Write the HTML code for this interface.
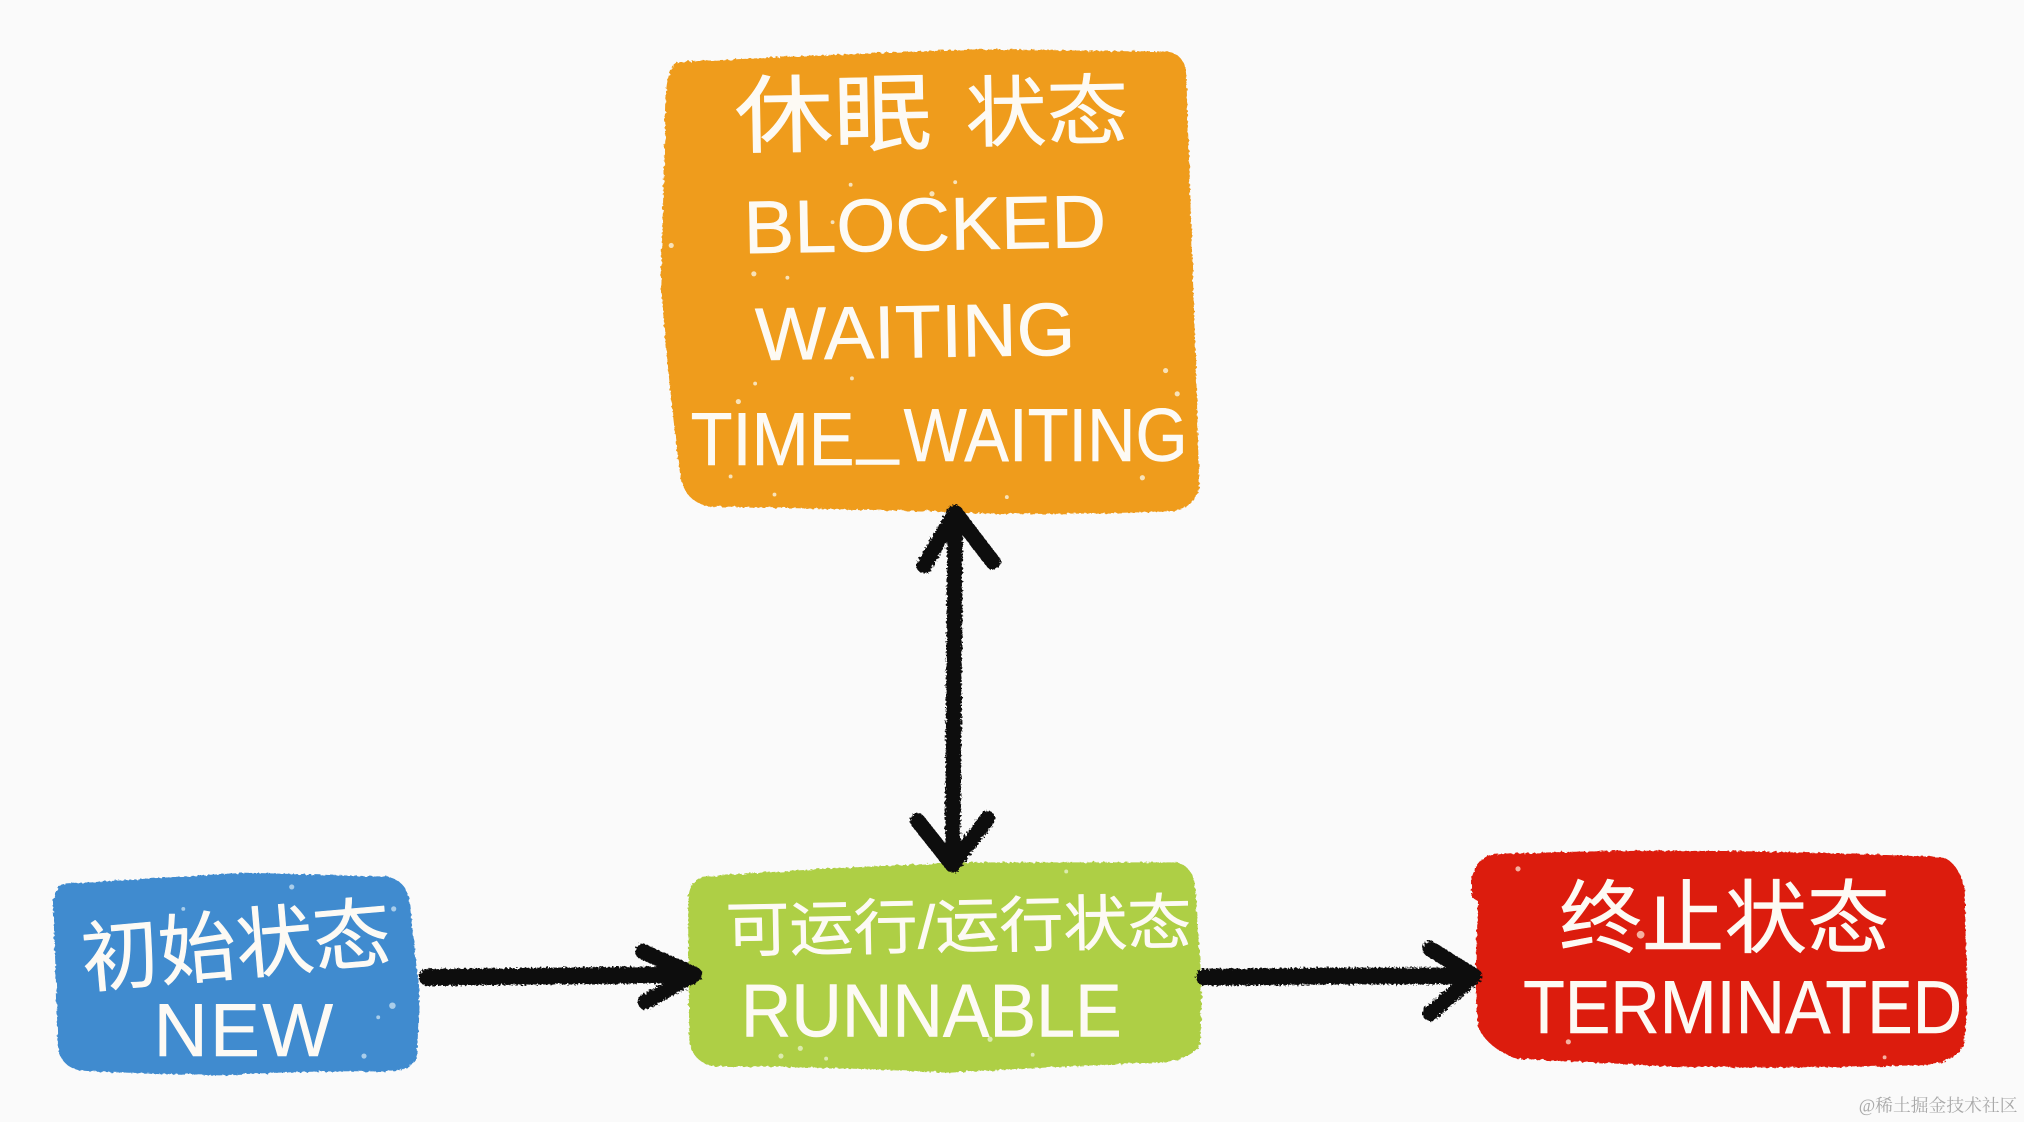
<!DOCTYPE html>
<html lang="zh"><head><meta charset="utf-8"><title>Thread states</title>
<style>
html,body{margin:0;padding:0;background:#fafafa;width:2024px;height:1122px;overflow:hidden}
svg{display:block}
text{fill:#fdfaf4;font-family:"Liberation Sans","WenQuanYi Zen Hei","Noto Sans CJK SC",sans-serif;stroke:#fdfaf4;stroke-width:.4;stroke-linejoin:round}
.wm{fill:#a9a9a9;stroke:none;font-family:"Liberation Serif","Noto Serif CJK SC",serif;font-size:13.8px}
</style></head><body>
<svg width="2024" height="1122" viewBox="0 0 1568 869" xmlns="http://www.w3.org/2000/svg">
<defs>
<filter id="r" x="-5%" y="-5%" width="110%" height="110%"><feTurbulence type="fractalNoise" baseFrequency=".35" numOctaves="2" seed="4"/><feDisplacementMap in="SourceGraphic" scale="3"/></filter>
<filter id="k" x="-20%" y="-20%" width="140%" height="140%" filterUnits="userSpaceOnUse"><feTurbulence type="fractalNoise" baseFrequency=".6" numOctaves="2" seed="7"/><feDisplacementMap in="SourceGraphic" scale="4"/></filter>
</defs>
<rect width="1568" height="869" fill="#fafafa"/>
<g filter="url(#r)">
<path fill="#EF9C1D" d="M526 48 Q640 42 760 38 L905 40 Q918 42 919 58 L922 150 L927 300 L929 375 Q928 394 905 396 Q800 400 720 396 L548 392 Q530 388 527 368 Q518 300 512 220 L516 70 Q518 50 526 48Z"/>
<path fill="#3F8BCF" d="M46 685 Q120 680 190 676 L300 679 Q314 682 317 696 L325 770 L323 820 Q318 829 300 830 Q240 829 170 833 L68 830 Q48 829 45 812 L43 750 L41 698 Z"/>
<path fill="#AECF45" d="M545 679 Q640 672 750 668 L912 668 Q925 672 926 688 L931 770 L930 808 Q925 820 900 823 Q820 826 735 831 Q640 826 552 826 Q536 822 534 806 L533 700 Q533 682 545 679Z"/>
<path fill="#DC1A0B" d="M1155 662 Q1300 655 1505 664 Q1517 668 1522 688 L1524 780 L1522 806 Q1516 824 1490 825 Q1400 828 1290 826 Q1220 822 1175 820 Q1152 812 1145 795 L1143 760 L1145 698 L1140 695 L1140 680 Q1145 665 1155 662Z"/>
</g>
<g filter="url(#k)" fill="none" stroke="#0a0a0a" stroke-linecap="round" stroke-linejoin="round">
<path stroke-width="12" d="M740 398 L739 530 L738 668"/>
<path stroke-width="12" d="M716 438 L740 397 L769 435"/>
<path stroke-width="12" d="M711 636 L738 670 L765 634"/>
<path stroke-width="13" d="M331 757 L430 756 L534 755"/>
<path stroke-width="12" d="M498 737 L538 755 L500 776"/>
<path stroke-width="13" d="M933 757 L1040 756 L1138 756"/>
<path stroke-width="12" d="M1108 735 L1142 756 L1108 785"/>
</g>
<text x="569" y="112" font-size="66" textLength="153" lengthAdjust="spacingAndGlyphs" transform="rotate(-1 640 90)">休眠</text>
<text x="748" y="108" font-size="60" textLength="126" lengthAdjust="spacingAndGlyphs" transform="rotate(-1 800 90)">状态</text>
<text x="576" y="194" font-size="58" textLength="281" lengthAdjust="spacingAndGlyphs" transform="rotate(-1 700 175)">BLOCKED</text>
<text x="585" y="277" font-size="58" textLength="248" lengthAdjust="spacingAndGlyphs" transform="rotate(-1 700 255)">WAITING</text>
<text x="535" y="360" font-size="58" textLength="127" lengthAdjust="spacingAndGlyphs">TIME</text>
<text x="664" y="348" font-size="58" textLength="32" lengthAdjust="spacingAndGlyphs">_</text>
<text x="700" y="357" font-size="58" textLength="220" lengthAdjust="spacingAndGlyphs">WAITING</text>
<text x="63" y="754" font-size="60" textLength="240" lengthAdjust="spacingAndGlyphs" transform="rotate(-5 180 735)">初始状态</text>
<text x="119" y="818" font-size="58" textLength="139">NEW</text>
<text x="562" y="734" font-size="47" textLength="361" lengthAdjust="spacingAndGlyphs" transform="rotate(-1 740 715)">可运行/运行状态</text>
<text x="574" y="803" font-size="58" textLength="295" lengthAdjust="spacingAndGlyphs">RUNNABLE</text>
<text x="1208" y="733" font-size="62" textLength="256" lengthAdjust="spacingAndGlyphs">终止状态</text>
<text x="1180" y="800" font-size="58" textLength="340" lengthAdjust="spacingAndGlyphs">TERMINATED</text>
<g fill="#f8e2b8">
<circle cx="722" cy="150" r="2"/><circle cx="659" cy="143" r="1.5"/><circle cx="740" cy="141" r="1.5"/><circle cx="584" cy="212" r="2"/><circle cx="610" cy="215" r="1.5"/><circle cx="520" cy="190" r="2"/><circle cx="660" cy="293" r="1.5"/><circle cx="885" cy="370" r="2"/><circle cx="903" cy="287" r="2"/><circle cx="600" cy="383" r="1.5"/><circle cx="780" cy="385" r="1.5"/><circle cx="566" cy="369" r="1.5"/><circle cx="912" cy="305" r="2"/><circle cx="645" cy="172" r="1.5"/><circle cx="585" cy="297" r="1.5"/><circle cx="572" cy="311" r="2"/>
</g>
<g fill="#a9cdea">
<circle cx="226" cy="687" r="2"/><circle cx="305" cy="704" r="2"/><circle cx="304" cy="779" r="2.5"/><circle cx="293" cy="788" r="1.5"/><circle cx="282" cy="818" r="2"/><circle cx="142" cy="704" r="1.5"/>
</g>
<g fill="#dcebae">
<circle cx="620" cy="812" r="2"/><circle cx="640" cy="820" r="1.5"/><circle cx="605" cy="818" r="2"/><circle cx="800" cy="817" r="1.5"/><circle cx="767" cy="805" r="2"/><circle cx="826" cy="675" r="1.5"/>
</g>
<g fill="#f5b0a0">
<circle cx="1176" cy="673" r="2"/><circle cx="1271" cy="724" r="3"/><circle cx="1215" cy="807" r="2"/><circle cx="1460" cy="819" r="1.5"/>
</g>
<text class="wm" x="1440" y="861">@稀土掘金技术社区</text>
</svg>
</body></html>
